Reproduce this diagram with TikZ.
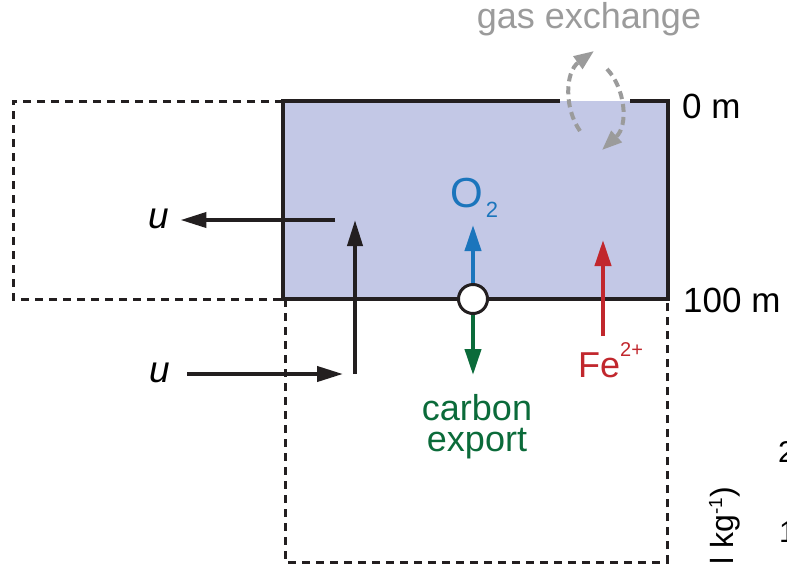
\documentclass[tikz,border=0pt]{standalone}
\usepackage{fontspec}
\setmainfont{Liberation Sans}
\usepackage{tikz}
\usetikzlibrary{arrows.meta}
\usepackage{xcolor}
\definecolor{mixfill}{HTML}{C3C8E6}
\definecolor{oxblue}{HTML}{1B75BC}
\definecolor{ironred}{HTML}{C1272D}
\definecolor{carbgreen}{HTML}{0B6B3A}
\definecolor{gasgray}{HTML}{9B9B9B}
\definecolor{inkblack}{HTML}{231F20}
\tikzset{
  boxline/.style={line width=3.5pt, draw=inkblack},
  ghostbox/.style={line width=3pt, draw=inkblack, dash pattern=on 8pt off 6pt},
  flow/.style={-{Triangle[length=26pt,width=15pt]}, line width=4pt, draw=inkblack, fill=inkblack},
  tracer/.style={-{Triangle[length=26pt,width=16pt]}, line width=4pt},
  gasflow/.style={-{Triangle[length=20pt,width=15pt]}, line width=4pt, color=gasgray, dash pattern=on 8pt off 5pt},
  lbl/.style={inner sep=0pt, font=\fontsize{35}{35}\selectfont},
  depth/.style={inner sep=0pt, anchor=base west, font=\fontsize{35}{35}\selectfont},
}

\begin{document}
\begin{tikzpicture}[x=1pt, y=-1pt]
  \useasboundingbox (0,0) rectangle (787,566);
  % mixed layer 0-100 m, open at the gas exchange window
  \fill[mixfill] (283,101) rectangle (668,299);
  \draw[boxline] (560,101) -- (283,101) -- (283,299) -- (668,299) -- (668,101) -- (630,101);
  % neighbour boxes
  \draw[ghostbox] (283,101) -- (13,101) -- (13,299) -- (283,299);
  \draw[ghostbox] (285,299) -- (285,562) -- (667,562) -- (667,299);
  \node[depth] (top) at (682,118) {0 m};
  \node[depth] (bot) at (683,312) {100 m};
  % gas exchange
  \node[lbl, anchor=base, text=gasgray, font=\fontsize{36}{36}\selectfont] (gas) at (589,28) {gas exchange};
  \coordinate (gasA0) at (580,131);
  \coordinate (gasA1) at (594,51);
  \coordinate (gasB0) at (607,69);
  \coordinate (gasB1) at (602,150);
  \draw[gasflow] (gasA0) .. controls (564,108) and (565,72) .. (gasA1);
  \draw[gasflow] (gasB0) .. controls (625,88) and (629,125) .. (gasB1);
  % circulation u
  \node[lbl, anchor=base, font=\fontsize{37}{37}\selectfont\itshape] (uout) at (159,228) {u};
  \node[lbl, anchor=base, font=\fontsize{37}{37}\selectfont\itshape] (uin) at (160,382) {u};
  \coordinate (outstart) at (335,220);
  \coordinate (inend) at (343,374);
  \coordinate (upbase) at (355,374);
  \coordinate (uptip) at (355,220);
  \draw[flow, shorten >=11pt] (outstart) -- (uout.east |- outstart);
  \draw[flow, shorten <=17pt] (uin.east |- inend) -- (inend);
  \draw[flow] (upbase) -- (uptip);
  % O2 and carbon export at the base
  \node[circle, draw=inkblack, fill=white, line width=3pt, minimum size=29pt, inner sep=0pt] (pore) at (473,299) {};
  \coordinate (o2tip) at (473,225);
  \coordinate (cbtip) at (473,375);
  \draw[tracer, color=oxblue] (pore.north) -- (o2tip);
  \draw[tracer, color=carbgreen] (pore.south) -- (cbtip);
  \node[lbl, anchor=base west, text=oxblue, font=\fontsize{42}{42}\selectfont] (o2) at (450,207)
    {O\kern3pt\raisebox{-10pt}{\fontsize{22}{22}\selectfont 2}};
  \node[lbl, anchor=north, align=center, text=carbgreen, font=\fontsize{36}{31}\selectfont] (carb) at (477,394)
    {carbon\\export};
  % iron supply from below
  \coordinate (febase) at (603,336);
  \coordinate (fetip) at (603,240);
  \draw[tracer, color=ironred] (febase) -- (fetip);
  \node[lbl, anchor=base west, text=ironred, font=\fontsize{36}{36}\selectfont] (fe) at (578,377)
    {Fe\raisebox{21pt}{\fontsize{20}{20}\selectfont 2+}};
  % neighbouring panel, cut at the edge
  \node[lbl, anchor=base east, rotate=90, font=\fontsize{32}{32}\selectfont] (unit) at (733,487)
    {l kg\raisebox{11pt}{\fontsize{19}{19}\selectfont -1})};
  \node[lbl, anchor=base west, font=\fontsize{30}{30}\selectfont] (tickb) at (778,462) {2};
  \node[lbl, anchor=base west, font=\fontsize{30}{30}\selectfont] (ticka) at (779,542) {1};
\end{tikzpicture}
\end{document}
